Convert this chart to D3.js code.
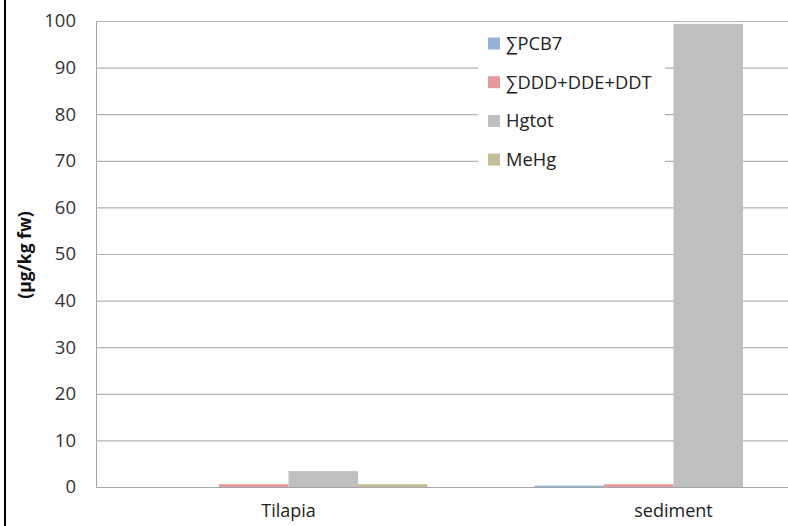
<!DOCTYPE html>
<html><head><meta charset="utf-8">
<script src="https://cdn.jsdelivr.net/npm/d3@7"></script>
<style>
html,body{margin:0;padding:0;background:#fff;}
svg{display:block;font-family:"Open Sans",sans-serif;}
</style></head>
<body>
<script>
const categories = ["Tilapia", "sediment"];
const seriesNames = ["∑PCB7", "∑DDD+DDE+DDT", "Hgtot", "MeHg"];
const seriesColors = ["#95b3d7", "#e6999a", "#bfbfbf", "#c4bd97"];
const pcb7 = [0, 0.3];
const ddx = [0.6, 0.6];
const hgtot = [3.4, 99.4];
const mehg = [0.6, 0];
const yTicks = [0, 10, 20, 30, 40, 50, 60, 70, 80, 90, 100];
const yTitle = "(µg/kg fw)";

const W = 788, H = 526;
const svg = d3.select("body").append("svg").attr("width", W).attr("height", H);
svg.append("rect").attr("width", W).attr("height", H).attr("fill", "#fff");

const x0 = d3.scaleBand().domain(categories).range([96, 866]).paddingInner(0.278).paddingOuter(0.139);
const x1 = d3.scaleBand().domain(seriesNames).range([0, x0.bandwidth()]);
const y = d3.scaleLinear().domain([0, 100]).range([487, 21]);

// gridlines
const yAxis = d3.axisLeft(y).tickValues(yTicks).tickSize(-(866 - 96)).tickPadding(20);
const gy = svg.append("g").attr("transform", "translate(96,0)").call(yAxis);
gy.select(".domain").attr("stroke", "#a6a6a6");
gy.selectAll(".tick line").attr("stroke", "#b3b3b3").attr("stroke-width", 1.2);
gy.selectAll(".tick text").attr("font-size", "18.5px").attr("fill", "#333").attr("font-family", "Open Sans");

// legend background (hides gridlines)
svg.append("rect").attr("x", 478).attr("y", 26).attr("width", 187).attr("height", 152).attr("fill", "#fff");

// bars
const seriesData = [pcb7, ddx, hgtot, mehg];
const groups = svg.append("g").selectAll("g").data(categories).join("g")
  .attr("transform", d => `translate(${x0(d)},0)`);
groups.selectAll("rect").data((c, ci) => seriesNames.map((s, si) => ({s, si, v: seriesData[si][ci]})))
  .join("rect")
  .attr("x", d => x1(d.s))
  .attr("width", x1.bandwidth())
  .attr("y", d => y(d.v))
  .attr("height", d => y(0) - y(d.v))
  .attr("fill", d => seriesColors[d.si]);

// x axis
const xAxis = d3.axisBottom(x0).tickSize(0).tickPadding(17);
const gx = svg.append("g").attr("transform", "translate(0,487)").call(xAxis);
gx.select(".domain").attr("stroke", "#a6a6a6");
gx.selectAll(".tick text").attr("font-size", "18px").attr("fill", "#222").attr("font-family", "Open Sans");

// legend
const leg = svg.append("g").selectAll("g").data(seriesNames).join("g")
  .attr("transform", (d, i) => `translate(488,${43.5 + i * 38.7})`);
leg.append("rect").attr("x", 0).attr("y", -6).attr("width", 12).attr("height", 12)
  .attr("fill", (d, i) => seriesColors[i]);
leg.append("text").attr("x", 18).attr("y", 6.5).attr("font-size", "18.3px").attr("fill", "#222").text(d => d);

// y title
svg.append("text").attr("transform", "translate(31,255) rotate(-90)")
  .attr("text-anchor", "middle").attr("font-size", "17.5px").attr("font-weight", "bold").attr("fill", "#111")
  .text(yTitle);

// left border
svg.append("line").attr("x1", 5).attr("x2", 5).attr("y1", 0).attr("y2", H).attr("stroke", "#000").attr("stroke-width", 2);
</script>
</body></html>
